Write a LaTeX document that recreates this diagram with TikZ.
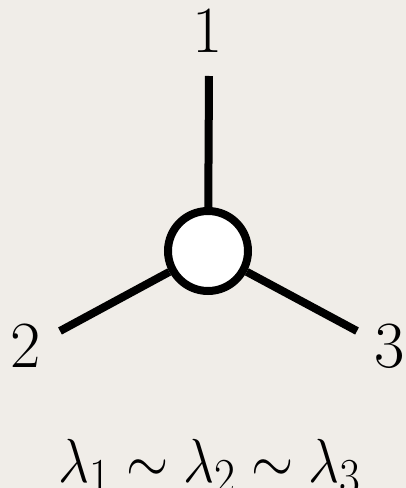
\documentclass[tikz,border=0pt]{standalone}
\usepackage{amsmath}
\definecolor{paper}{RGB}{240,237,232}

\begin{document}
\begin{tikzpicture}[
    x=1pt, y=1pt,
    vertex/.style={draw, circle, fill=white, line width=8pt, minimum size=80pt, inner sep=0pt},
    leg/.style={line width=8pt},
    lbl/.style={anchor=base, inner sep=0pt, font=\Huge, scale=2.65}
]
\fill[paper] (0,0) rectangle (406,488);
\useasboundingbox (0,0) rectangle (406,488);
\node[vertex] (v) at (208,237) {};
\coordinate (e1) at (209,412);
\coordinate (e2) at (60,157);
\coordinate (e3) at (357,157);
\draw[leg] (v) -- (e1);
\draw[leg] (v) -- (e2);
\draw[leg] (v) -- (e3);
\node[lbl] (n1) at (208,435) {$1$};
\node[lbl] (n2) at (26,120) {$2$};
\node[lbl] (n3) at (390,120) {$3$};
\node[anchor=base, inner sep=0pt, font=\Huge, xscale=2.18, yscale=2.5] (rel) at (210,5)
    {$\lambda_1 \sim \lambda_2 \sim \lambda_3$};
\end{tikzpicture}
\end{document}
